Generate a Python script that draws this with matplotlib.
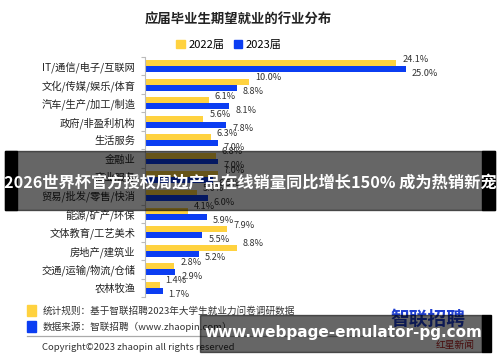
import matplotlib
matplotlib.use("Agg")
import matplotlib.pyplot as plt
from matplotlib.patches import Rectangle
from matplotlib.lines import Line2D

plt.rcParams['font.family'] = ['Noto Sans CJK SC', 'DejaVu Sans']

categories = ["IT/通信/电子/互联网", "文化/传媒/娱乐/体育", "汽车/生产/加工/制造", "政府/非盈利机构",
              "生活服务", "金融业", "商业服务", "贸易/批发/零售/快消", "能源/矿产/环保",
              "文体教育/工艺美术", "房地产/建筑业", "交通/运输/物流/仓储", "农林牧渔"]
v2022 = [24.1, 10.0, 6.1, 5.6, 6.3, 6.8, 7.0, 5.0, 4.1, 7.9, 8.8, 2.8, 1.4]
v2023 = [25.0, 8.8, 8.1, 7.8, 7.0, 7.0, 6.5, 6.0, 5.9, 5.5, 5.2, 2.9, 1.7]
series_names = ["2022届", "2023届"]

YELLOW = "#FFD23F"
BLUE = "#0B3DF2"
W, H = 500, 362

fig = plt.figure(figsize=(5, 3.62), dpi=100)

def fx(px):
    return px / W

def fy(py):
    return 1 - py / H

ax = fig.add_axes([fx(145), fy(297), fx(455) - fx(145), fy(57) - fy(297)])
h = 0.32
ys = list(range(len(categories)))
ax.barh([y - h / 2 for y in ys], v2022, height=h, color=YELLOW, label=series_names[0])
ax.barh([y + h / 2 for y in ys], v2023, height=h, color=BLUE, label=series_names[1])
ax.set_xlim(0, 310 / 10.43)
ax.set_ylim(len(categories) - 0.5, -0.5)
ax.set_yticks(ys)
ax.set_yticklabels(categories, fontsize=7.4, color="#222222")
ax.tick_params(axis='y', which='major', length=0, pad=7)
ax.set_yticks([y - 0.5 for y in ys] + [len(ys) - 0.5], minor=True)
ax.tick_params(axis='y', which='minor', length=3, color="#bbbbbb", width=0.8)
ax.set_xticks([])
for s in ["top", "right", "bottom"]:
    ax.spines[s].set_visible(False)
ax.spines["left"].set_color("#bbbbbb")
ax.spines["left"].set_linewidth(0.8)

for y, a, b in zip(ys, v2022, v2023):
    ax.annotate(f"{a:.1f}%", (a, y - h / 2), xytext=(6, 4), textcoords='offset pixels',
                ha='left', va='center', fontsize=6.6, color="#333333")
    ax.annotate(f"{b:.1f}%", (b, y + h / 2), xytext=(6, -4), textcoords='offset pixels',
                ha='left', va='center', fontsize=6.6, color="#333333")

# title & legend
fig.text(fx(238), fy(19), "应届毕业生期望就业的行业分布", ha='center', va='center',
         fontsize=9.6, fontweight='bold', color="#222222")
leg = fig.legend(handles=[Rectangle((0, 0), 1, 1, color=YELLOW), Rectangle((0, 0), 1, 1, color=BLUE)],
                 labels=series_names, loc='center', bbox_to_anchor=(fx(229), fy(45)), ncol=2,
                 frameon=False, fontsize=8, handlelength=0.8, handleheight=0.8,
                 handletextpad=0.3, columnspacing=0.8, borderpad=0)

# footer
fig.patches.append(Rectangle((fx(27), fy(316)), fx(9), fy(305) - fy(316), transform=fig.transFigure,
                             color=YELLOW, zorder=3))
fig.patches.append(Rectangle((fx(27), fy(332)), fx(9), fy(321) - fy(332), transform=fig.transFigure,
                             color=BLUE, zorder=3))
fig.text(fx(43), fy(311), "统计规则：基于智联招聘2023年大学生就业力问卷调研数据", ha='left', va='center',
         fontsize=6.9, color="#333333")
fig.text(fx(43), fy(327), "数据来源：智联招聘（www.zhaopin.com）", ha='left', va='center',
         fontsize=6.9, color="#333333")
fig.lines.append(Line2D([fx(27), fx(395)], [fy(336), fy(336)], transform=fig.transFigure,
                        color="#aaaaaa", lw=0.9))
fig.text(fx(42), fy(347), "Copyright©2023 zhaopin all rights reserved", ha='left', va='center',
         fontsize=6.9, color="#333333")
fig.text(fx(428), fy(319), "智联招聘", ha='center', va='center', fontsize=13.5, fontweight='bold',
         color="#1f3fd0")
fig.text(fx(455), fy(345), "红星新闻", ha='center', va='center', fontsize=7, color="#b02020")

# banner overlay
fig.patches.append(Rectangle((fx(5), fy(210)), fx(490), fy(151) - fy(210), transform=fig.transFigure,
                             color="black", alpha=0.6, zorder=10))
fig.patches.append(Rectangle((fx(5), fy(210)), fx(12), fy(151) - fy(210), transform=fig.transFigure,
                             color="black", zorder=11))
fig.patches.append(Rectangle((fx(482), fy(210)), fx(13), fy(151) - fy(210), transform=fig.transFigure,
                             color="black", zorder=11))
fig.text(fx(250), fy(183), "2026世界杯官方授权周边产品在线销量同比增长150% 成为热销新宠", ha='center',
         va='center', fontsize=11.7, fontweight='bold', color="white", zorder=12)

# bottom watermark overlay
fig.patches.append(Rectangle((fx(200), fy(352)), fx(282), fy(315) - fy(352), transform=fig.transFigure,
                             color="black", alpha=0.6, zorder=10))
fig.patches.append(Rectangle((fx(482), fy(352)), fx(9), fy(315) - fy(352), transform=fig.transFigure,
                             color="black", zorder=11))
fig.text(fx(343), fy(333), "www.webpage-emulator-pg.com", ha='center', va='center',
         fontsize=11, fontweight='bold', color="white", zorder=12, family=['DejaVu Sans'])

fig.savefig("out.png", dpi=100)
